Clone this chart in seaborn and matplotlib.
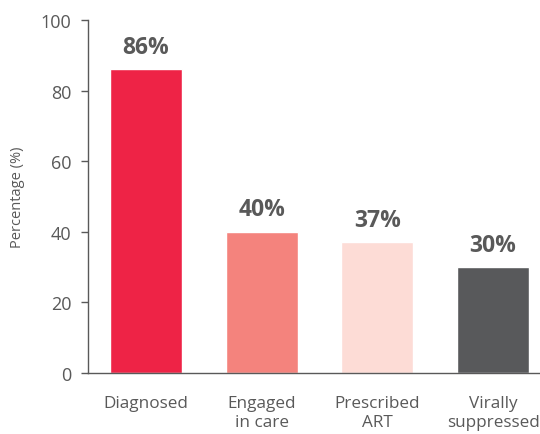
import matplotlib
matplotlib.use("Agg")
import matplotlib.pyplot as plt
import seaborn as sns
import pandas as pd

# Datos del gráfico
etapas = ["Diagnosed", "Engaged\nin care", "Prescribed\nART", "Virally\nsuppressed"]
porcentajes = [86, 40, 37, 30]
colores = ["#EE2346", "#F4837D", "#FDDCD6", "#58595B"]
yticks = [0, 20, 40, 60, 80, 100]

GRIS = "#595959"

sns.set_theme(style="white")
plt.rcParams["font.family"] = ["Open Sans", "DejaVu Sans"]

df = pd.DataFrame({"etapa": etapas, "pct": porcentajes})

fig = plt.figure(figsize=(5.4, 4.35), dpi=100)
ax = fig.add_axes([0.163, 0.140, 0.837, 0.812])

sns.barplot(data=df, x="etapa", y="pct", hue="etapa", palette=colores,
            width=0.62, saturation=1, legend=False, ax=ax)

# Etiquetas encima de cada barra
for i, v in enumerate(porcentajes):
    ax.text(i, v + 3, f"{v}%", ha="center", va="bottom",
            fontsize=16.5, fontweight="bold", color=GRIS)

ax.set_ylim(0, 100)
ax.set_xlim(-0.5, 3.405)
ax.set_yticks(yticks)
ax.set_xlabel("")
ax.set_ylabel("Percentage (%)", fontsize=10.5, color=GRIS, labelpad=11)

sns.despine(ax=ax, top=True, right=True)
for s in ["left", "bottom"]:
    ax.spines[s].set_color(GRIS)
    ax.spines[s].set_linewidth(1.0)

ax.tick_params(axis="y", which="both", left=True, length=5, width=1,
               color=GRIS, labelcolor=GRIS, labelsize=13, pad=7)
ax.tick_params(axis="x", bottom=False, labelcolor=GRIS, labelsize=12.3, pad=10)
for lab in ax.get_xticklabels():
    lab.set_linespacing(1.2)

fig.savefig("out.png", dpi=100)
